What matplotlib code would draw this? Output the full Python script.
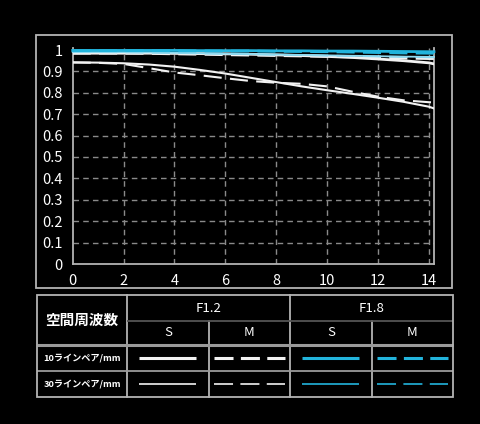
import matplotlib
matplotlib.use("Agg")
from matplotlib import pyplot as plt

plt.rcParams['font.family'] = ['Noto Sans CJK JP', 'DejaVu Sans']
plt.rcParams['lines.scale_dashes'] = False

# image height (mm from centre)
x = [0, 1, 2, 3, 4, 5, 6, 7, 8, 9, 10, 11, 12, 13, 14, 14.2]

# F1.2
f12_s10 = [0.985, 0.985, 0.985, 0.985, 0.984, 0.983, 0.982, 0.980, 0.977, 0.974, 0.970, 0.965, 0.958, 0.950, 0.940, 0.935]
f12_m10 = [0.985, 0.985, 0.985, 0.984, 0.982, 0.980, 0.978, 0.976, 0.974, 0.972, 0.970, 0.968, 0.965, 0.962, 0.960, 0.960]
f12_s30 = [0.942, 0.941, 0.938, 0.932, 0.922, 0.907, 0.890, 0.870, 0.850, 0.830, 0.812, 0.795, 0.777, 0.758, 0.735, 0.727]
f12_m30 = [0.942, 0.940, 0.935, 0.915, 0.895, 0.882, 0.868, 0.855, 0.847, 0.842, 0.830, 0.805, 0.782, 0.765, 0.756, 0.755]
# F1.8
f18_s10 = [0.998, 0.998, 0.998, 0.998, 0.998, 0.997, 0.997, 0.997, 0.996, 0.996, 0.995, 0.995, 0.994, 0.993, 0.992, 0.992]
f18_m10 = [0.997, 0.997, 0.997, 0.997, 0.996, 0.996, 0.995, 0.995, 0.994, 0.993, 0.992, 0.990, 0.988, 0.986, 0.985, 0.985]
f18_s30 = [0.990, 0.990, 0.990, 0.989, 0.987, 0.985, 0.983, 0.981, 0.979, 0.977, 0.975, 0.973, 0.971, 0.969, 0.968, 0.968]
f18_m30 = [0.990, 0.990, 0.989, 0.988, 0.986, 0.984, 0.982, 0.980, 0.978, 0.976, 0.974, 0.972, 0.970, 0.968, 0.966, 0.966]

xticks = [0, 2, 4, 6, 8, 10, 12, 14]
yticks = [0, 0.1, 0.2, 0.3, 0.4, 0.5, 0.6, 0.7, 0.8, 0.9, 1.0]
ylabels = ['0', '0.1', '0.2', '0.3', '0.4', '0.5', '0.6', '0.7', '0.8', '0.9', '1']

apertures = ['F1.2', 'F1.8']
sm = ['S', 'M']
freq_title = '空間周波数'
row_labels = ['10ラインペア/mm', '30ラインペア/mm']

WHITE = '#f2f2f2'
CYAN = '#22b4dc'
GRID = '#8a8a8a'
EDGE = '#b4b4b4'
DASH = (0, (13, 6))
LEG_DASH = (0, (13.7, 5.3))

W, H = 481, 424
fig = plt.figure(figsize=(W / 100, H / 100), dpi=100, facecolor='black')

# overlay for frame and table (pixel coords)
ov = fig.add_axes([0, 0, 1, 1])
ov.set_xlim(0, W)
ov.set_ylim(H, 0)
ov.axis('off')
ov.set_facecolor('none')

ov.add_patch(plt.Rectangle((36, 35), 416.5, 253, fill=False, ec=EDGE, lw=1.3))

# chart
ax = fig.add_axes([72.7 / W, (H - 264) / H, (434 - 72.7) / W, 1.01 * 214 / H])
ax.set_facecolor('black')
ax.set_xlim(0, 14.2)
ax.set_ylim(0, 1.01)
for yv in yticks[1:-1]:
    ax.axhline(yv, color=GRID, lw=1.0, ls=(0, (4, 3)), zorder=1)
for xv in xticks[1:]:
    ax.axvline(xv, color=GRID, lw=1.0, ls=(0, (4, 3)), zorder=1)

ax.plot(x, f12_s30, color=WHITE, lw=1.5, zorder=3)
ax.plot(x, f12_m30, color=WHITE, lw=1.5, ls=DASH, zorder=3)
ax.plot(x, f12_m10, color=WHITE, lw=2.0, ls=DASH, zorder=3)
ax.plot(x, f12_s10, color=WHITE, lw=2.0, zorder=3)
ax.plot(x, f18_m30, color='#7fd3ee', lw=1.3, ls=DASH, zorder=4, clip_on=False)
ax.plot(x, f18_s30, color='#8fdaf0', lw=1.3, zorder=4, clip_on=False)
ax.plot(x, f18_m10, color=CYAN, lw=2.0, ls=DASH, zorder=5, clip_on=False)
ax.plot(x, f18_s10, color=CYAN, lw=2.0, zorder=5, clip_on=False)

ax.set_xticks(xticks)
ax.set_xticklabels([str(v) for v in xticks])
ax.set_yticks(yticks)
ax.set_yticklabels(ylabels)
ax.tick_params(colors='white', length=0, labelsize=10.5)
ax.tick_params(axis='y', pad=7)
ax.tick_params(axis='x', pad=7)
for side in ['left', 'bottom', 'right']:
    ax.spines[side].set_color(EDGE)
    ax.spines[side].set_linewidth(1.3)
ax.spines['top'].set_visible(False)

# table
tl, tr, tt, tb = 37, 453, 295, 397
c1, c2, c3, c4 = 127, 209, 290, 372
r1, r2, r3 = 321, 345, 371
ov.plot([c1, c1], [tt, tb], color=EDGE, lw=1.3)
ov.plot([c3, c3], [tt, tb], color=EDGE, lw=1.3)
ov.plot([c2, c2], [r1, tb], color=EDGE, lw=1.3)
ov.plot([c4, c4], [r1, tb], color=EDGE, lw=1.3)
ov.plot([c1, tr], [r1, r1], color='#555555', lw=1.3, solid_capstyle='butt')
ov.plot([tl, tr], [r2, r2], color='#9a9a9a', lw=2.2, solid_capstyle='butt')
ov.plot([tl, tr], [r3, r3], color='#9a9a9a', lw=1.3, solid_capstyle='butt')
ov.add_patch(plt.Rectangle((tl, tt), tr - tl, tb - tt, fill=False, ec=EDGE, lw=1.3, zorder=5))

ov.text((tl + c1) / 2, (tt + r2) / 2, freq_title, color='white', fontsize=10.5,
        fontweight='bold', ha='center', va='center')
ov.text((c1 + c3) / 2, (tt + r1) / 2, apertures[0], color='white', fontsize=9.5, ha='center', va='center')
ov.text((c3 + tr) / 2, (tt + r1) / 2, apertures[1], color='white', fontsize=9.5, ha='center', va='center')
for a, b, lab in [(c1, c2, sm[0]), (c2, c3, sm[1]), (c3, c4, sm[0]), (c4, tr, sm[1])]:
    ov.text((a + b) / 2, (r1 + r2) / 2, lab, color='white', fontsize=9.5, ha='center', va='center')
ov.text((tl + c1) / 2, (r2 + r3) / 2, row_labels[0], color='white', fontsize=6.6,
        fontweight='bold', ha='center', va='center')
ov.text((tl + c1) / 2, (r3 + tb) / 2, row_labels[1], color='white', fontsize=6.6,
        fontweight='bold', ha='center', va='center')

# legend samples
for (a, b), col, dashed in [((c1, c2), WHITE, False), ((c2, c3), WHITE, True),
                            ((c3, c4), CYAN, False), ((c4, tr), CYAN, True)]:
    m = 5 if dashed else 12.5
    for yy, lw in [((r2 + r3) / 2, 2.2), ((r3 + tb) / 2, 1.2)]:
        ov.plot([a + m, b - m], [yy, yy], color=col, lw=lw,
                ls=LEG_DASH if dashed else '-', solid_capstyle='butt', dash_capstyle='butt')

fig.savefig('out.png', dpi=100, facecolor='black')
